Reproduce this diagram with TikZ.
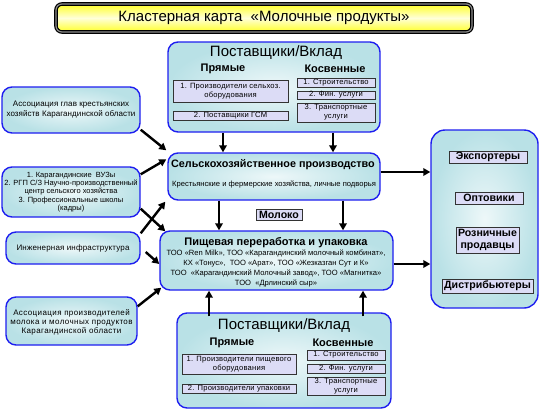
\documentclass[tikz,border=0pt]{standalone}
\usepackage{fontspec}
\setmainfont{Liberation Sans}
\usetikzlibrary{arrows.meta,calc}
\definecolor{boxblue}{HTML}{1E1EF0}
\definecolor{boxfill}{HTML}{B9E1E6}
\definecolor{subfill}{HTML}{DCDCF6}
\newcommand{\lspc}[1]{\addfontfeature{LetterSpace=#1}}
\tikzset{
  bigbox/.style={draw=boxblue, line width=1.4pt, rounded corners=10pt,
    inner color=boxfill!25, outer color=boxfill, inner sep=0pt, align=center},
  subbox/.style={draw=black!80, line width=0.8pt, fill=subfill, inner sep=0pt,
    align=center, font=\fontsize{7.6}{9}\selectfont\lspc{3}},
  rbox/.style={draw=black!80, line width=0.8pt, fill=subfill, inner sep=0pt,
    align=center, font=\bfseries\fontsize{10.6}{12.5}\selectfont},
  hdr/.style={font=\bfseries\fontsize{11}{13}\selectfont, inner sep=0pt},
  bigtitle/.style={font=\fontsize{15}{17}\selectfont, inner sep=0pt},
  arr/.style={line width=2.4pt, -{Triangle[length=7pt,width=7.5pt]}},
}
\begin{document}
\begin{tikzpicture}[x=1pt,y=-1pt]
\useasboundingbox (0,0) rectangle (545,410);
% title
\node[draw=black, line width=1.2pt, double=black!45, double distance=1.2pt,
  rounded corners=6pt, top color=yellow!85!white, bottom color=yellow!85!white,
  middle color=yellow!15, minimum width=416pt, minimum height=28pt,
  font=\fontsize{15}{17}\selectfont] (title) at (264,18)
  {Кластерная карта \ «Молочные продукты»};

% top suppliers
\node[bigbox, minimum width=212pt, minimum height=90pt] (topsup) at (274,87) {};
\node[bigtitle] (tsT) at (276,52.5) {Поставщики/Вклад};
\node[hdr] (tsP) at (223,68.5) {Прямые};
\node[hdr] (tsK) at (335,68.5) {Косвенные};
\node[subbox, minimum width=115pt, minimum height=22pt] (ts1) at (230.5,91) {1. Производители сельхоз.\\оборудования};
\node[subbox, minimum width=115pt, minimum height=9pt] (ts2) at (230.5,116) {2. Поставщики ГСМ};
\node[subbox, minimum width=78pt, minimum height=9pt] (ts3) at (336,82.5) {1. Строительство};
\node[subbox, minimum width=78pt, minimum height=8pt] (ts4) at (336,95) {2. Фин. услуги};
\node[subbox, minimum width=78pt, minimum height=19pt] (ts5) at (336,112.5) {3. Транспортные\\услуги};

% agricultural production
\node[bigbox, minimum width=212pt, minimum height=47pt] (selhoz) at (274,176.5) {};
\node[font=\bfseries\fontsize{10.8}{13}\selectfont, inner sep=0pt] (selT) at (273,164.5) {Сельскохозяйственное производство};
\node[font=\fontsize{7.6}{9}\selectfont, inner sep=0pt] (selS) at (274,184) {Крестьянские и фермерские хозяйства, личные подворья};

% milk label
\node[rbox, minimum width=46pt, minimum height=11pt] (milk) at (279,214.5) {Молоко};

% food processing
\node[bigbox, minimum width=233pt, minimum height=59pt] (pish) at (276.5,260.5) {};
\node[font=\bfseries\fontsize{11}{13}\selectfont, inner sep=0pt] (pishT) at (276,243) {Пищевая переработка и упаковка};
\node[font=\fontsize{7.6}{9.8}\selectfont, align=center, inner sep=0pt] (pishS) at (276,268.5)
  {ТОО «Ren Milk», ТОО «Карагандинский молочный комбинат»,\\
   КХ «Тонус», \ ТОО «Арат», ТОО «Жезказган Сут и К»\\
   ТОО \ «Карагандинский Молочный завод», ТОО «Магнитка»\\
   ТОО \ «Дрлинский сыр»};

% right: sales
\node[bigbox, minimum width=107pt, minimum height=178pt, rounded corners=14pt] (sales) at (484.5,219) {};
\node[rbox, minimum width=78pt, minimum height=12pt] (r1) at (488,157) {Экспортеры};
\node[rbox, minimum width=68pt, minimum height=12pt] (r2) at (489,198) {Оптовики};
\node[rbox, minimum width=63pt, minimum height=26pt] (r3) at (487.5,240) {Розничные\\продавцы};
\node[rbox, minimum width=91pt, minimum height=14pt] (r4) at (487.5,286) {Дистрибьютеры};

% bottom suppliers
\node[bigbox, minimum width=214pt, minimum height=95pt] (botsup) at (284,360.5) {};
\node[bigtitle] (bsT) at (284,325.5) {Поставщики/Вклад};
\node[hdr] (bsP) at (232,342.5) {Прямые};
\node[hdr] (bsK) at (343,342.5) {Косвенные};
\node[subbox, minimum width=114pt, minimum height=20pt] (bs1) at (239,364) {1. Производители пищевого\\оборудования};
\node[subbox, minimum width=114pt, minimum height=9pt] (bs2) at (239,388.5) {2. Производители упаковки};
\node[subbox, minimum width=78pt, minimum height=10pt] (bs3) at (346,355) {1. Строительство};
\node[subbox, minimum width=78pt, minimum height=9pt] (bs4) at (346,368.5) {2. Фин. услуги};
\node[subbox, minimum width=78pt, minimum height=18pt] (bs5) at (346,386) {3. Транспортные\\услуги};

% left boxes
\node[bigbox, minimum width=138pt, minimum height=46pt, font=\fontsize{8}{10}\selectfont\lspc{1}] (la) at (71,110)
  {Ассоциация глав крестьянских\\хозяйств Карагандинской области};
\node[bigbox, minimum width=138pt, minimum height=50pt, font=\fontsize{7.5}{8.3}\selectfont] (lb) at (71,192)
  {1. Карагандинские \ ВУЗы\\2. РГП С/З Научно-производственный\\центр сельского хозяйства\\3. Профессиональные школы\\(кадры)};
\node[bigbox, minimum width=134pt, minimum height=32pt, font=\fontsize{8}{10}\selectfont\lspc{2}] (lc) at (73,248)
  {Инженерная инфраструктура};
\node[bigbox, minimum width=131pt, minimum height=48pt, font=\fontsize{8}{9.2}\selectfont\lspc{5}] (ld) at (71.5,321)
  {\\[-1pt]Ассоциация производителей\\молока и молочных продуктов\\Карагандинской области};

% arrows: vertical
\draw[arr] ([xshift=-51pt]topsup.south) -- ([xshift=-51pt]topsup.south |- selhoz.north);
\draw[arr] ([xshift=59pt]topsup.south) -- ([xshift=59pt]topsup.south |- selhoz.north);
\draw[arr] ([xshift=-55pt]selhoz.south) -- ([xshift=-55pt]selhoz.south |- pish.north);
\draw[arr] ([xshift=69pt]selhoz.south) -- ([xshift=69pt]selhoz.south |- pish.north);
\draw[arr] ([xshift=-75pt,yshift=-4pt]botsup.north) -- ([xshift=-75pt]botsup.north |- pish.south);
\draw[arr] ([xshift=79pt,yshift=-4pt]botsup.north) -- ([xshift=79pt]botsup.north |- pish.south);
% to sales
\draw[arr] ([yshift=4.5pt]selhoz.east) -- ([yshift=4.5pt]selhoz.east -| sales.west);
\draw[arr] ([yshift=-3.5pt]pish.east) -- ([yshift=-3.5pt]pish.east -| sales.west);
% from left
\draw[arr] ([yshift=4pt]la.south east) -- ([xshift=-1pt,yshift=2pt]selhoz.north west);
\draw[arr] ([yshift=-8pt]lb.north east) -- ([xshift=-1pt,yshift=-7pt]selhoz.north west);
\draw[arr] ([yshift=9pt]lb.south east) -- ([xshift=6pt,yshift=-1pt]pish.north west);
\draw[arr] ([yshift=-2pt]lc.north east) -- ([xshift=-2pt,yshift=-1pt]selhoz.south west);
\draw[arr] ([xshift=5pt,yshift=-4pt]lc.east) -- ([yshift=-3.5pt]pish.west);
\draw[arr] ([yshift=-10pt]ld.north east) -- ([xshift=2pt,yshift=3pt]pish.south west);
\end{tikzpicture}
\end{document}
